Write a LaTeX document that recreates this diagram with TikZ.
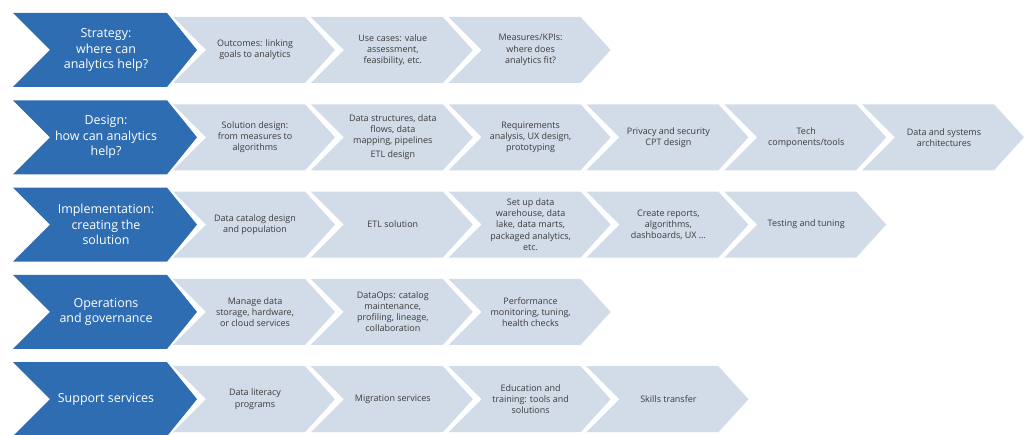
\documentclass[tikz,border=0pt]{standalone}
\usepackage{fontspec}
\setmainfont{Open Sans}
\definecolor{darkblue}{HTML}{2F6DB3}
\definecolor{lightblue}{HTML}{D2DBE8}
\definecolor{txtgray}{HTML}{3C3C3C}
\begin{document}
\begin{tikzpicture}[x=1bp,y=-1bp,
  darkshape/.pic={\fill[darkblue] (0,-37)--(154,-37)--(184,0)--(154,37)--(0,37)--(37,0)--cycle;},
  lightshape/.pic={\fill[lightblue] (0,-33)--(132,-33)--(162,0)--(132,33)--(0,33)--(33,0)--cycle;},
  darktext/.style={text=white,align=center,font=\fontsize{12.5}{15.5}\selectfont,inner sep=0pt},
  lighttext/.style={text=txtgray,align=center,font=\fontsize{9}{11.2}\selectfont,inner sep=0pt}]
\useasboundingbox (0,0) rectangle (1025,435);
\def\pitch{137.8}
% row 1
\def\yc{50}
\pic at (13,\yc) {darkshape};
\node[darktext] (s0) at (106,\yc) {Strategy:\\where can\\analytics help?};
\foreach \k/\t [count=\i] in {0/{Outcomes: linking\\goals to analytics},1/{Use cases: value\\assessment,\\feasibility, etc.},2/{Measures/KPIs:\\where does\\analytics fit?}}{
  \pic at (173+\k*\pitch,\yc) {lightshape};
  \node[lighttext] (s\i) at (255+\k*\pitch,\yc) {\t};
}
% row 2
\def\yc{137.3}
\pic at (13,\yc) {darkshape};
\node[darktext] (d0) at (106,\yc) {Design:\\how can analytics\\help?};
\foreach \k/\t [count=\i] in {0/{Solution design:\\from measures to\\algorithms},1/{Data structures, data\\flows, data\\mapping, pipelines\\[3pt]ETL design},2/{Requirements\\analysis, UX design,\\prototyping},3/{Privacy and security\\CPT design},4/{Tech\\components/tools},5/{Data and systems\\architectures}}{
  \pic at (173+\k*\pitch,\yc) {lightshape};
  \node[lighttext] (d\i) at (255+\k*\pitch,\yc) {\t};
}
% row 3
\def\yc{224.6}
\pic at (13,\yc) {darkshape};
\node[darktext] (m0) at (106,\yc) {Implementation:\\creating the\\solution};
\foreach \k/\t [count=\i] in {0/{Data catalog design\\and population},1/{ETL solution},2/{Set up data\\warehouse, data\\lake, data marts,\\packaged analytics,\\etc.},3/{Create reports,\\algorithms,\\dashboards, UX \dots},4/{Testing and tuning}}{
  \pic at (173+\k*\pitch,\yc) {lightshape};
  \node[lighttext] (m\i) at (255+\k*\pitch,\yc) {\t};
}
% row 4
\def\yc{311.9}
\pic at (13,\yc) {darkshape};
\node[darktext] (o0) at (106,\yc) {Operations\\and governance};
\foreach \k/\t [count=\i] in {0/{Manage data\\storage, hardware,\\or cloud services},1/{DataOps: catalog\\maintenance,\\profiling, lineage,\\collaboration},2/{Performance\\monitoring, tuning,\\health checks}}{
  \pic at (173+\k*\pitch,\yc) {lightshape};
  \node[lighttext] (o\i) at (255+\k*\pitch,\yc) {\t};
}
% row 5
\def\yc{399.2}
\pic at (13,\yc) {darkshape};
\node[darktext] (u0) at (106,\yc) {Support services};
\foreach \k/\t [count=\i] in {0/{Data literacy\\programs},1/{Migration services},2/{Education and\\training: tools and\\solutions},3/{Skills transfer}}{
  \pic at (173+\k*\pitch,\yc) {lightshape};
  \node[lighttext] (u\i) at (255+\k*\pitch,\yc) {\t};
}
\end{tikzpicture}
\end{document}
